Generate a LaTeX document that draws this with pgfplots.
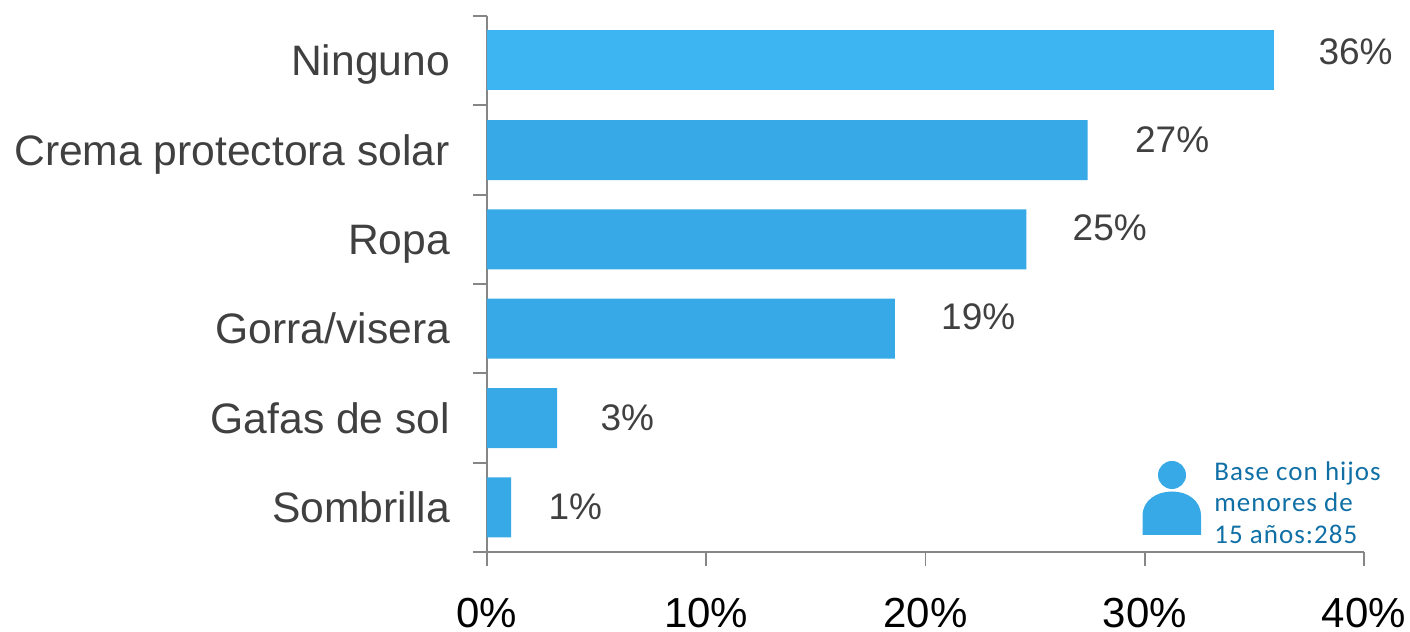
\documentclass[border=0pt]{standalone}
\usepackage{fontspec}
\setmainfont{Liberation Sans}
\newfontfamily\notefont[LetterSpace=3.8]{Carlito}
\usepackage{pgfplots}
\pgfplotsset{compat=1.18}
\definecolor{barfirst}{HTML}{3DB5F2}
\definecolor{barrest}{HTML}{36A9E6}
\definecolor{axisgray}{HTML}{868686}
\definecolor{labelgray}{HTML}{404040}
\definecolor{notecolor}{HTML}{1070A6}
\begin{document}
\begin{tikzpicture}
\path[use as bounding box] (0,0) rectangle (705pt,316pt);
\begin{axis}[
    at={(243.5pt,40pt)},
    anchor=south west,
    scale only axis,
    width=438.5pt,
    height=268pt,
    xbar,
    bar width=30pt,
    bar shift=0pt,
    y dir=reverse,
    xmin=0, xmax=40,
    ymin=-0.5, ymax=5.5,
    axis lines*=left,
    axis line style={axisgray,line width=0.9pt},
    tick align=outside,
    xtick={0,10,20,30,40},
    xticklabel={\pgfmathprintnumber{\tick}\%},
    x tick style={axisgray,line width=0.9pt},
    major tick length=7pt,
    xticklabel style={/pgf/number format/assume math mode=true,font=\fontsize{21}{25}\selectfont,text=black,inner sep=0pt,yshift=-16pt},
    ytick={0,1,2,3,4,5},
    yticklabels={Ninguno,Crema protectora solar,Ropa,Gorra/visera,Gafas de sol,Sombrilla},
    y tick style={draw=none},
    minor ytick={-0.5,0.5,1.5,2.5,3.5,4.5,5.5},
    minor tick length=7pt,
    minor y tick style={draw=axisgray,line width=0.9pt},
    yticklabel style={font=\fontsize{21.3}{25}\selectfont,text=labelgray,xshift=-8pt,
        text height=0.72em,text depth=0.21em,yshift=-5pt},
    point meta=explicit,
    visualization depends on={\thisrow{dx} \as \dx},
    visualization depends on={\thisrow{dy} \as \dy},
    nodes near coords={\pgfmathprintnumber[precision=0,assume math mode=true]{\pgfplotspointmeta}\%},
    nodes near coords style={anchor=west,inner sep=0pt,xshift=\dx pt,yshift=\dy pt,
        font=\fontsize{18.5}{22}\selectfont,text=labelgray},
]
\addplot[draw=none,fill=barfirst] table[x=val,y=pos,meta=lab] {
pos val lab dx dy
-0.01 35.9 36 22 4
};
\addplot[draw=none,fill=barrest] table[x=val,y=pos,meta=lab] {
pos val lab dx dy
1 27.4 27 23.5 5
2 24.6 25 23 6
3 18.6 19 23 6
4 3.2 3 21.5 0
5 1.1 1 18.5 0.5
};
\end{axis}
\begin{scope}[x=0.5pt,y=-0.5pt,yshift=316pt]
\fill[barrest] (1172,475) circle[radius=14];
\fill[barrest] (1142.5,535) -- (1142.5,516) .. controls (1142.5,500) and (1157,491.5) .. (1172,491.5)
    .. controls (1187,491.5) and (1201,500) .. (1201,516) -- (1201,535) -- cycle;
\node[anchor=base west,inner sep=0pt,text=notecolor,font=\notefont\fontsize{13.5}{15}\selectfont] at (1214,481) {Base con hijos};
\node[anchor=base west,inner sep=0pt,text=notecolor,font=\notefont\fontsize{13.5}{15}\selectfont] at (1214,512) {menores de};
\node[anchor=base west,inner sep=0pt,text=notecolor,font=\notefont\fontsize{13.5}{15}\selectfont] at (1214,544) {15 años:285};
\end{scope}
\end{tikzpicture}
\end{document}
